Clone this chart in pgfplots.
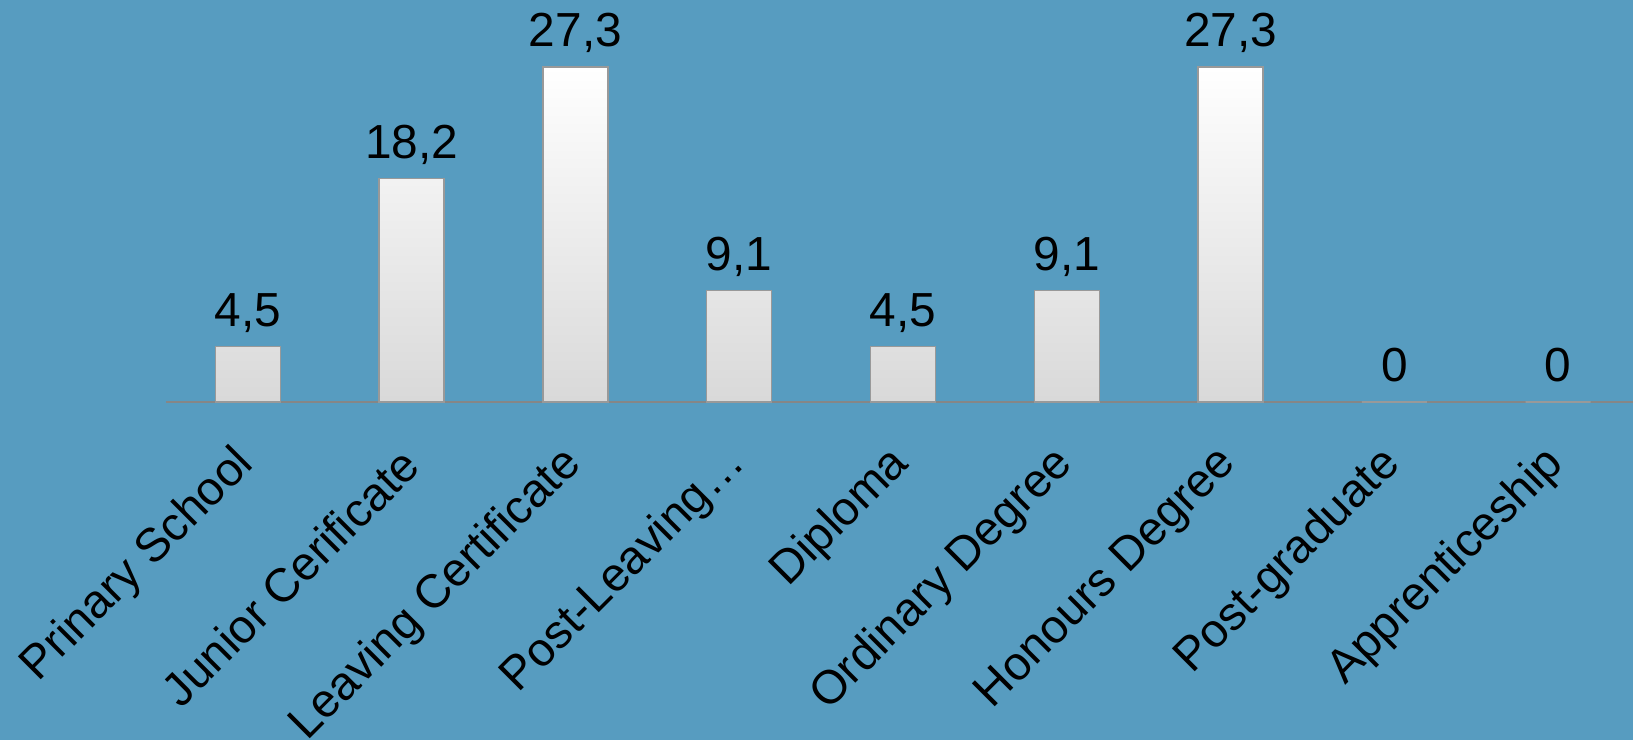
\documentclass[border=0pt]{standalone}
\usepackage{pgfplots}
\pgfplotsset{compat=1.18}
\usepackage{fontspec}
\setmainfont{Liberation Sans}
\definecolor{bgblue}{RGB}{87,156,192}
\definecolor{axisgray}{RGB}{134,134,134}

\begin{document}
\begin{tikzpicture}
\fill[bgblue] (0,0) rectangle (16.33,7.40);
\useasboundingbox (0,0) rectangle (16.33,7.40);
\begin{axis}[
    at={(1.66cm,3.38cm)}, anchor=south west,
    scale only axis,
    width=14.74cm, height=4.02cm,
    xmin=-0.5, xmax=8.5,
    ymin=0, ymax=32.76,
    ybar, bar width=0.65cm,
    axis x line*=bottom,
    axis y line=none,
    x axis line style={axisgray, line width=0.6pt, -},
    xtick=data,
    xticklabels={Prinary School, Junior Cerificate, Leaving Certificate, Post-Leaving…, Diploma, Ordinary Degree, Honours Degree, Post-graduate, Apprenticeship},
    major tick length=0pt,
    xticklabel style={rotate=45, anchor=east, font=\fontsize{13.4}{16}\selectfont, inner sep=0pt, yshift=-0.38cm, xshift=-0.39cm},
    clip=false,
    nodes near coords,
    /pgf/number format/.cd, use comma, fixed, precision=1, assume math mode=true, /pgfplots/.cd,
    every node near coord/.append style={font=\fontsize{13.6}{16}\selectfont, black, anchor=base, inner sep=0pt, yshift=0.2cm},
]
\addplot[shading=axis, top color=white, bottom color=black!15, draw=black!40, line width=0.4pt]
    coordinates {(0,4.5)(1,18.2)(2,27.3)(3,9.1)(4,4.5)(5,9.1)(6,27.3)(7,0)(8,0)};
\end{axis}
\end{tikzpicture}
\end{document}
